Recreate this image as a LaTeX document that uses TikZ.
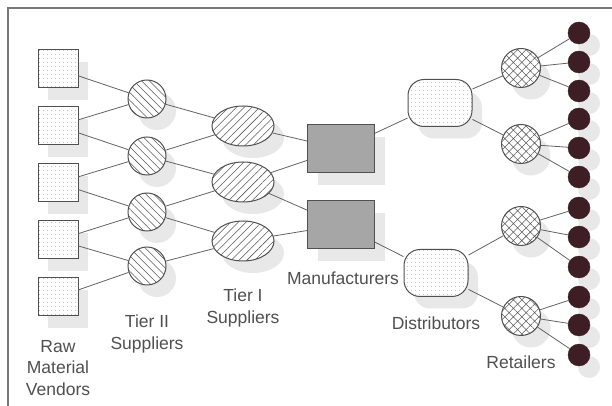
\documentclass[tikz,border=0pt]{standalone}
\usepackage{fontspec}
\setmainfont{Liberation Sans}
\usetikzlibrary{shapes.geometric,patterns.meta,shadows}
\definecolor{outline}{RGB}{80,80,80}
\definecolor{wire}{RGB}{100,100,100}
\definecolor{dotfill}{RGB}{60,30,36}
\definecolor{labeltext}{RGB}{80,80,80}
\definecolor{framegray}{RGB}{120,120,120}
\tikzset{
  shade/.style={drop shadow={shadow xshift=10pt, shadow yshift=-12pt, fill=black!9, opacity=1}},
  unit/.style={shade, draw=outline, line width=1pt, inner sep=0pt, preaction={fill=white}},
  dotted fill/.style={pattern={Dots[distance=4pt, radius=0.5pt]}, pattern color=black!40},
  vendor/.style={unit, rectangle, minimum width=40pt, minimum height=38pt, dotted fill},
  tiertwo/.style={unit, circle, minimum size=38pt,
    pattern={Lines[angle=-45, distance=5.5pt, line width=0.55pt]}, pattern color=black!65},
  tierone/.style={unit, ellipse, minimum width=62pt, minimum height=40pt,
    pattern={Lines[angle=45, distance=5.5pt, line width=0.55pt]}, pattern color=black!65},
  maker/.style={shade, rectangle, draw=outline, line width=1pt, inner sep=0pt,
    minimum width=67pt, minimum height=48pt, fill=black!35},
  distrib/.style={unit, rectangle, rounded corners=16pt, minimum width=64pt, minimum height=47pt, dotted fill},
  shop/.style={unit, circle, minimum size=39pt,
    pattern={Hatch[angle=45, distance=6pt, line width=0.55pt]}, pattern color=black!65},
  buyer/.style={shade, circle, minimum size=22pt, inner sep=0pt, fill=dotfill, draw=dotfill},
  link/.style={draw=wire, line width=0.8pt},
  caption/.style={text=labeltext, font=\fontsize{17.5}{21.5}\selectfont, align=center, inner sep=0pt}
}
\begin{document}
\begin{tikzpicture}[x=1pt,y=1pt]
\useasboundingbox (0,0) rectangle (612,406);
\fill[white] (0,0) rectangle (612,406);

% frame
\draw[framegray, line width=1.3pt] (8,0) -- (8,398) -- (612,398);

% raw material vendors
\node[vendor] (r1) at (58,337) {};
\node[vendor] (r2) at (58,280) {};
\node[vendor] (r3) at (58,223) {};
\node[vendor] (r4) at (58,166) {};
\node[vendor] (r5) at (58,109) {};

% tier II suppliers
\node[tiertwo] (a1) at (147,307) {};
\node[tiertwo] (a2) at (147,250) {};
\node[tiertwo] (a3) at (147,194) {};
\node[tiertwo] (a4) at (147,140) {};

% tier I suppliers
\node[tierone] (b1) at (243,280) {};
\node[tierone] (b2) at (243,224) {};
\node[tierone] (b3) at (243,165) {};

% manufacturers
\node[maker] (m1) at (341,257) {};
\node[maker] (m2) at (341,181) {};

% distributors
\node[distrib] (d1) at (440,303) {};
\node[distrib] (d2) at (436,133) {};

% retailers
\node[shop] (c1) at (521,338) {};
\node[shop] (c2) at (521,262) {};
\node[shop] (c3) at (521,180) {};
\node[shop] (c4) at (521,90) {};

% customers
\foreach \i/\y in {1/373,2/344,3/315,4/287,5/258,6/229,7/198,8/169,9/139,10/109,11/81,12/51}
  \node[buyer] (p\i) at (579,\y) {};

% connections
\foreach \s/\t in {r1/a1,r2/a1,r2/a2,r3/a2,r3/a3,r4/a3,r4/a4,r5/a4,
                   a1/b1,a2/b1,a2/b2,a3/b2,a3/b3,a4/b3,
                   b1/m1,b2/m1,b2/m2,b3/m2,
                   m1/d1,m2/d2,
                   d1/c1,d1/c2,d2/c3,d2/c4,
                   c1/p1,c1/p2,c1/p3,c2/p4,c2/p5,c2/p6,
                   c3/p7,c3/p8,c3/p9,c4/p10,c4/p11,c4/p12}
  \draw[link] (\s) -- (\t);

% stage labels
\node[caption] (lraw) at (58,38) {Raw\\Material\\Vendors};
\node[caption] (ltwo) at (147,72) {Tier II\\Suppliers};
\node[caption] (lone) at (243,98) {Tier I\\Suppliers};
\node[caption] (lman) at (343,128) {Manufacturers};
\node[caption] (ldis) at (436,83) {Distributors};
\node[caption] (lret) at (521,44) {Retailers};
\end{tikzpicture}
\end{document}
